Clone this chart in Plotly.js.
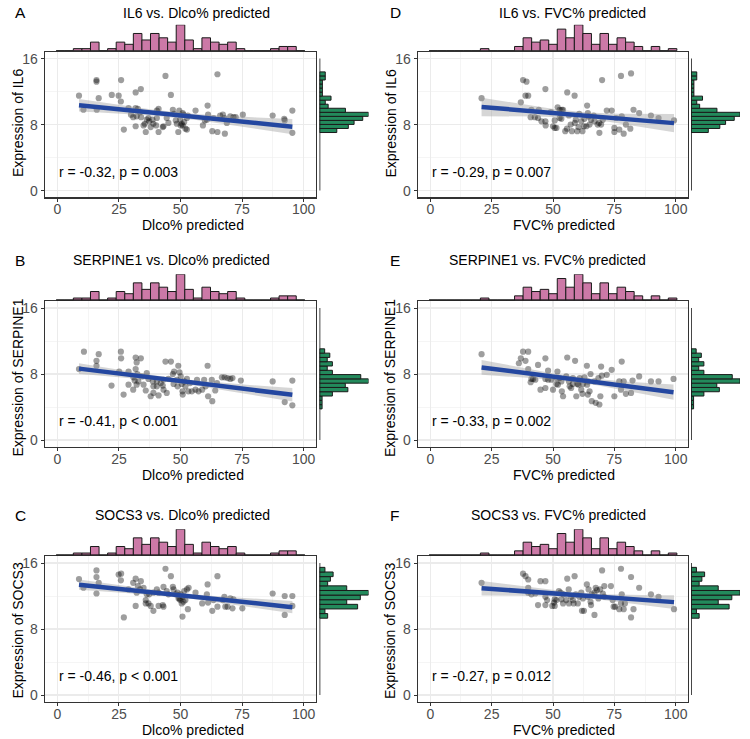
<!DOCTYPE html>
<html><head><meta charset="utf-8">
<script src="https://cdn.plot.ly/plotly-3.0.1.min.js"></script>
<style>html,body{margin:0;padding:0;background:#fff}#chart{width:750px;height:739px}</style>
</head><body><div id="chart"></div>
<script>
// ---------- DATA ----------
// Panel A: IL6 vs Dlco%
const xA = [8.8,10.6,15.9,15.9,16.8,16.0,22.1,24.9,25.9,25.8,27.0,28.9,30.8,31.8,33.9,31.8,31.8,32.2,33.6,34.0,35.0,35.5,35.9,36.3,37.3,37.9,38.6,39.0,40.1,41.1,41.1,42.8,43.1,43.9,44.4,45.1,46.1,46.9,47.4,48.5,49.1,49.5,49.9,50.1,50.5,50.9,51.2,51.5,52.0,52.6,53.0,56.1,59.1,59.9,61.0,61.2,62.9,65.0,65.0,67.2,67.8,68.0,68.8,70.2,71.5,72.4,75.3,87.4,92.1,92.3,95.4,95.4,32.7,37.0,40.4,48.1,50.9,52.6,66.1,63.4,60.7,40.4,29.9];
const yA = [11.5,9.8,13.4,13.2,11.2,9.8,11.6,11.5,13.4,10.8,7.4,10.0,8.9,11.9,12.3,10.0,7.8,9.0,9.5,8.9,7.9,8.1,7.1,8.6,8.4,7.7,8.6,8.1,7.9,9.9,7.1,7.7,7.8,13.9,8.8,8.2,11.6,9.8,9.3,8.1,7.1,9.7,8.6,7.9,8.1,7.9,9.2,8.3,7.5,7.4,9.1,9.7,7.9,8.5,10.3,9.2,7.2,14.1,7.1,9.2,8.8,6.9,8.2,9.0,8.9,8.9,9.2,9.1,8.7,8.5,9.7,7.0,9.9,8.8,9.7,8.5,9.4,8.8,9.1,8.8,8.6,8.8,9.2];
// Panel B: SERPINE1 vs Dlco%
const xB = [8.8,10.8,15.9,15.9,16.8,22.0,25.1,25.8,25.9,26.9,28.9,30.9,30.8,31.8,32.2,33.9,31.8,32.5,31.4,32.9,34.3,35.0,35.9,36.3,37.0,37.9,38.8,39.0,40.4,41.1,42.0,42.8,43.1,43.9,44.4,46.1,45.1,46.9,47.2,48.5,49.1,49.6,50.1,50.5,50.8,50.9,51.5,52.0,52.6,53.2,54.6,56.1,58.8,59.6,60.2,61.0,61.2,62.9,64.1,64.8,66.8,67.9,69.1,70.2,71.1,74.5,87.4,92.3,95.4,95.4,56.7,62.7,53.9,39.0,43.1,48.8,47.4,40.4,32.2,28.9,57.3];
const yB = [8.6,10.7,9.6,9.0,10.4,6.6,8.3,10.7,9.9,5.5,6.7,7.6,6.1,10.0,9.4,9.9,8.6,8.0,7.2,7.1,7.7,6.7,6.0,8.1,7.4,5.3,7.1,5.7,6.5,5.4,6.9,6.6,6.1,9.5,5.7,9.5,7.4,8.0,6.8,7.3,9.0,8.2,7.7,6.8,5.9,5.5,7.1,6.5,7.4,5.9,5.9,6.1,6.1,7.3,6.5,9.0,5.3,4.7,6.0,6.9,7.6,7.6,7.5,7.4,7.5,7.2,7.1,4.6,7.2,4.2,7.3,7.3,6.9,6.5,7.3,6.5,8.3,7.1,6.7,8.3,5.9];
// Panel C: SOCS3 vs Dlco%
const xC = [8.8,10.6,15.9,15.9,16.8,15.9,24.9,25.9,25.8,27.0,28.9,30.8,31.8,32.2,31.8,33.9,32.7,33.6,35.0,35.9,35.9,37.3,37.9,39.0,39.0,40.4,41.1,42.8,43.1,43.1,43.9,44.4,45.1,46.1,46.9,47.2,48.1,48.8,49.2,49.9,50.1,50.5,50.8,50.9,51.5,52.0,52.6,53.0,53.3,56.1,58.8,60.7,61.0,61.2,62.9,65.0,65.0,67.2,67.8,68.2,69.1,70.2,71.1,75.1,71.5,87.4,92.3,92.3,95.4,95.4,36.3,37.0,41.1,49.6,51.2,63.4];
const yC = [14.05,13.0,15.1,14.3,13.6,12.3,14.6,14.7,13.9,9.4,12.8,13.6,14.1,12.4,10.8,13.8,13.2,12.8,13.0,11.5,11.1,12.2,10.8,10.2,12.4,12.8,12.4,10.9,10.7,13.1,15.3,12.6,12.2,14.4,13.1,12.8,12.2,12.4,11.7,11.5,12.2,11.1,9.5,11.9,12.6,11.5,12.8,10.4,13.0,12.4,11.1,12.2,13.4,11.2,10.2,14.4,10.7,11.5,11.9,10.7,10.7,11.7,10.5,10.5,11.6,12.3,12.0,9.7,12.0,10.8,12.2,11.1,10.8,11.7,11.3,11.5];
// Panel D: IL6 vs FVC%
const xD = [20.9,37.8,39.2,38.8,39.9,36.9,40.9,42.6,43.9,44.2,46.9,46.9,47.0,50.0,50.7,50.7,51.4,51.9,52.7,52.7,53.4,53.6,54.1,55.0,55.8,56.5,57.2,57.7,58.8,58.9,59.9,60.4,60.7,61.5,62.0,62.6,63.6,63.9,64.2,64.5,64.9,65.5,66.9,68.2,68.8,68.9,69.6,70.0,70.3,71.9,73.9,75.0,75.0,77.0,77.7,78.0,78.8,79.7,81.5,81.8,82.8,85.1,89.9,93.0,99.3,49.1,52.7,45.3,62.8,66.6,59.3,55.7,75.7,41.2];
const yD = [11.2,13.4,13.2,11.5,11.5,10.7,8.9,8.9,8.8,9.8,12.3,8.4,7.9,7.8,7.6,8.5,7.6,10.1,9.8,9.4,8.7,9.8,9.8,7.2,11.9,9.1,8.0,7.2,11.5,8.2,7.2,7.7,9.3,8.4,7.2,7.8,7.8,10.3,9.4,9.0,8.0,8.6,8.4,8.0,8.2,7.0,8.0,13.4,8.6,9.7,9.7,7.6,7.1,7.4,13.9,9.0,6.9,8.0,7.5,14.2,9.8,9.4,9.1,8.8,8.5,9.5,8.8,8.4,8.7,9.1,8.6,7.5,8.8,9.8];
// Panel E: SERPINE1 vs FVC%
const xE = [20.9,36.9,36.1,37.8,39.9,38.8,39.9,40.9,41.9,42.8,43.9,44.9,46.9,46.9,46.9,48.0,50.0,51.4,51.8,52.0,52.7,53.6,54.1,55.4,55.8,56.5,57.4,58.1,59.0,59.5,59.9,60.4,60.9,61.5,62.0,62.8,63.8,63.9,64.2,64.9,65.3,65.8,66.9,67.4,68.5,68.9,69.3,69.6,69.9,71.9,73.9,75.0,77.0,77.7,78.0,78.8,79.7,81.8,82.4,85.1,89.9,93.0,99.1,49.3,53.4,58.1,62.2,51.4,48.0,56.8,64.2,41.2];
const yE = [10.4,9.9,9.3,10.7,10.7,9.6,8.6,7.0,7.4,7.3,9.1,6.1,9.9,6.3,7.4,7.3,6.1,6.8,8.3,6.7,7.5,5.9,5.3,7.7,10.0,7.1,6.3,6.8,9.6,5.3,6.8,6.7,7.5,6.1,5.6,7.6,9.0,6.7,5.5,5.9,8.0,4.7,7.1,4.5,7.5,4.3,5.3,8.9,7.8,7.9,8.5,5.3,7.1,6.1,9.5,7.1,5.6,5.7,7.2,7.7,7.1,7.1,7.4,7.3,7.1,7.5,6.8,7.5,8.4,6.5,7.1,7.4];
// Panel F: SOCS3 vs FVC%
const xF = [20.9,37.8,38.8,39.9,39.9,39.9,41.2,42.8,43.9,44.9,46.9,46.9,46.9,49.7,50.4,50.7,51.4,52.4,53.1,53.4,54.2,55.4,55.8,56.4,57.4,58.4,58.8,59.3,60.1,60.7,61.8,62.6,63.8,64.2,64.5,65.3,65.8,66.9,67.4,67.9,68.5,69.2,70.0,70.3,70.9,73.6,74.7,75.3,77.0,77.7,78.0,78.8,79.3,81.8,81.8,82.8,85.1,89.9,93.0,99.3,62.2,58.1,61.5,50.7,54.1,66.9,70.9,74.3,56.5,47.6,65.5,77.7];
const yF = [13.6,14.7,14.4,14.0,13.0,12.4,12.2,12.3,10.9,13.8,13.8,11.9,10.9,10.8,11.2,10.8,11.5,12.6,12.4,11.6,12.2,11.5,14.1,12.8,11.9,11.1,14.4,12.2,11.1,11.9,10.2,10.2,13.4,11.9,12.8,11.3,12.2,9.7,13.0,12.7,11.7,12.8,15.1,12.3,13.2,13.2,10.7,10.7,10.4,15.3,12.2,10.4,11.1,14.3,9.4,10.4,13.0,12.2,11.9,10.4,11.7,11.5,12.4,11.6,11.1,12.4,11.9,11.5,11.1,11.5,10.9,11.1];

// Marginal histogram counts (top: x variable, 29 bins)
const topBinStart = -0.46, topBinWidth = 3.48;
const dlcoCounts = [0,0,1,1,4,0,1,4,3,8,5,8,6,4,12,5,1,6,4,3,4,1,0,0,0,1,2,2,0];
const fvcCounts  = [0,0,0,0,0,0,1,0,0,0,2,6,4,5,3,10,6,12,8,3,8,3,6,4,2,0,2,0,1];
// Right histograms (bottom -> top)
const il6BinStart = 7.04, il6BinWidth = 0.49;
const il6Counts = [6,10,12,15,17,9,3,2,4,1,1,1,1,2,2];
const serpBinStart = 3.77, serpBinWidth = 0.52;
const serpCounts = [1,1,1,5,11,10,19,16,5,3,5,3,4,2];
const socsBinStart = 9.31, socsBinWidth = 0.56;
const socsCounts = [3,2,14,10,15,18,10,3,4,5,2];

// Text
const letters = ["A","B","C","D","E","F"];
const titles = ["IL6 vs. Dlco% predicted","SERPINE1 vs. Dlco% predicted","SOCS3 vs. Dlco% predicted",
                "IL6 vs. FVC% predicted","SERPINE1 vs. FVC% predicted","SOCS3 vs. FVC% predicted"];
const yTitles = ["Expression of IL6","Expression of SERPINE1","Expression of SOCS3",
                 "Expression of IL6","Expression of SERPINE1","Expression of SOCS3"];
const xTitles = ["Dlco% predicted","Dlco% predicted","Dlco% predicted","FVC% predicted","FVC% predicted","FVC% predicted"];
const statLabels = ["r = -0.32, p = 0.003","r = -0.41, p < 0.001","r = -0.46, p < 0.001",
                    "r = -0.29, p = 0.007","r = -0.33, p = 0.002","r = -0.27, p = 0.012"];
const xTicks = [0,25,50,75,100];
const yTicks = [0,8,16];

// ---------- BUILD ----------
const W = 750, H = 739;
const fx = px => px / W;
const fy = py => 1 - py / H;
const FONT = "Liberation Sans, Arial, sans-serif";
const PINK = "#CC79A7", GREEN = "#238A5C", OUT = "#1a1a1a";

const panels = [
  {x:xA,y:yA,top:dlcoCounts,tS:topBinStart,tW:topBinWidth,r:il6Counts,rS:il6BinStart,rW:il6BinWidth,col:0,row:0},
  {x:xB,y:yB,top:dlcoCounts,tS:topBinStart,tW:topBinWidth,r:serpCounts,rS:serpBinStart,rW:serpBinWidth,col:0,row:1},
  {x:xC,y:yC,top:dlcoCounts,tS:topBinStart,tW:topBinWidth,r:socsCounts,rS:socsBinStart,rW:socsBinWidth,col:0,row:2},
  {x:xD,y:yD,top:fvcCounts,tS:topBinStart,tW:topBinWidth,r:il6Counts,rS:il6BinStart,rW:il6BinWidth,col:1,row:0},
  {x:xE,y:yE,top:fvcCounts,tS:topBinStart,tW:topBinWidth,r:serpCounts,rS:serpBinStart,rW:serpBinWidth,col:1,row:1},
  {x:xF,y:yF,top:fvcCounts,tS:topBinStart,tW:topBinWidth,r:socsCounts,rS:socsBinStart,rW:socsBinWidth,col:1,row:2}
];

function fit(x, y) {
  const n = x.length;
  const mx = x.reduce((a,b)=>a+b,0)/n, my = y.reduce((a,b)=>a+b,0)/n;
  let sxx=0, sxy=0;
  for (let i=0;i<n;i++){ sxx+=(x[i]-mx)**2; sxy+=(x[i]-mx)*(y[i]-my); }
  const b = sxy/sxx, a = my - b*mx;
  let sse=0; for (let i=0;i<n;i++){ sse += (y[i]-(a+b*x[i]))**2; }
  const s = Math.sqrt(sse/(n-2)), t = 1.99;
  const xmin = Math.min(...x), xmax = Math.max(...x);
  const xs=[], yh=[], up=[], lo=[];
  for (let k=0;k<=60;k++){
    const xv = xmin + (xmax-xmin)*k/60;
    const yv = a + b*xv;
    const se = s*Math.sqrt(1/n + (xv-mx)**2/sxx);
    xs.push(xv); yh.push(yv); up.push(yv+t*se); lo.push(yv-t*se);
  }
  return {xs, yh, up, lo};
}

const data = [];
const layout = {
  width: W, height: H, margin:{l:0,r:0,t:0,b:0},
  paper_bgcolor:"#fff", plot_bgcolor:"rgba(0,0,0,0)",
  showlegend:false, font:{family:FONT, size:14, color:"#000"},
  annotations: []
};

const boxLs = [45, 418], boxRs = [316, 688];
const boxTs = [52, 301.4, 556.4];
const boxHt = 145.2;
const rhL = [319.5, 691];
const titleY = [13, 260, 515];
const titleRight = [272, 648];
const letterX = [13, 388];
const xTitleX = [192.5, 564];
const yTitleX = [17.5, 390];
const yTitleY = [123.5, 378, 631];

function axKey(n, xy){ return (n===1? xy+"axis" : xy+"axis"+n); }
function axRef(n, xy){ return (n===1? xy : xy+n); }

panels.forEach((p, i) => {
  const nM = 3*i+1, nT = 3*i+2, nR = 3*i+3;
  const L = boxLs[p.col], R = boxRs[p.col], T = boxTs[p.row], B = T + boxHt;
  const baseTop = T - 1.2, topTop = baseTop - 26;
  const rL = rhL[p.col], rR = rL + 49;

  const mainX = {domain:[fx(L), fx(R)], range:[-5,105], anchor:axRef(nM,"y"),
    tickmode:"array", tickvals:xTicks, ticktext:xTicks.map(String),
    showgrid:true, gridcolor:"#EBEBEB", gridwidth:1.1,
    minor:{tickmode:"linear", tick0:0, dtick:12.5, showgrid:true, gridcolor:"#EFEFEF", gridwidth:0.6, ticks:""},
    showline:true, mirror:true, linecolor:"#333333", linewidth:1.3,
    ticks:"outside", ticklen:3, tickwidth:1, tickcolor:"#333333", ticklabelstandoff:-4,
    tickfont:{family:FONT, size:14, color:"#4D4D4D"}, zeroline:false, fixedrange:true};
  const mainY = {domain:[fy(B), fy(T)], range:[-0.8,16.8], anchor:axRef(nM,"x"),
    tickmode:"array", tickvals:yTicks, ticktext:yTicks.map(String),
    showgrid:true, gridcolor:"#EBEBEB", gridwidth:1.1,
    minor:{tickmode:"linear", tick0:0, dtick:4, showgrid:true, gridcolor:"#EFEFEF", gridwidth:0.6, ticks:""},
    showline:true, mirror:true, linecolor:"#333333", linewidth:1.3,
    ticks:"outside", ticklen:3, tickwidth:1, tickcolor:"#333333",
    tickfont:{family:FONT, size:14, color:"#4D4D4D"}, zeroline:false, fixedrange:true};
  layout[axKey(nM,"x")] = mainX;
  layout[axKey(nM,"y")] = mainY;

  const topMax = Math.max(...p.top);
  layout[axKey(nT,"x")] = {domain:[fx(L), fx(R)], range:[-5,105], visible:false, anchor:axRef(nT,"y"), fixedrange:true};
  layout[axKey(nT,"y")] = {domain:[fy(baseTop), fy(topTop)], range:[0, topMax], visible:false, anchor:axRef(nT,"x"), fixedrange:true};

  const rMax = Math.max(...p.r);
  layout[axKey(nR,"x")] = {domain:[fx(rL), fx(rR)], range:[0, rMax], visible:false, anchor:axRef(nR,"y"), fixedrange:true};
  layout[axKey(nR,"y")] = {domain:[fy(B), fy(T)], range:[-0.8,16.8], visible:false, anchor:axRef(nR,"x"), fixedrange:true};

  const xm = axRef(nM,"x"), ym = axRef(nM,"y");
  const xt = axRef(nT,"x"), yt = axRef(nT,"y");
  const xr = axRef(nR,"x"), yr = axRef(nR,"y");

  // scatter points
  data.push({type:"scatter", mode:"markers", x:p.x, y:p.y, xaxis:xm, yaxis:ym,
    marker:{size:6.2, color:"rgba(0,0,0,0.38)", line:{width:0}}, hoverinfo:"skip"});
  // confidence band + regression line
  const f = fit(p.x, p.y);
  data.push({type:"scatter", mode:"lines", x:f.xs.concat(f.xs.slice().reverse()),
    y:f.up.concat(f.lo.slice().reverse()), xaxis:xm, yaxis:ym, fill:"toself",
    fillcolor:"rgba(153,153,153,0.4)", line:{width:0}, hoverinfo:"skip"});
  data.push({type:"scatter", mode:"lines", x:f.xs, y:f.yh, xaxis:xm, yaxis:ym,
    line:{color:"#2447A0", width:4.5}, hoverinfo:"skip"});

  // top histogram
  const tc = p.top.map((_,k)=>p.tS + p.tW*(k+0.5));
  data.push({type:"scatter", mode:"lines", x:[p.tS, p.tS + p.tW*p.top.length], y:[0,0],
    xaxis:xt, yaxis:yt, line:{color:OUT, width:1.2}, hoverinfo:"skip", cliponaxis:false});
  data.push({type:"bar", x:tc, y:p.top, width:p.tW, xaxis:xt, yaxis:yt,
    marker:{color:PINK, line:{color:OUT, width:1}}, cliponaxis:false, hoverinfo:"skip"});

  // right histogram
  const rc = p.r.map((_,k)=>p.rS + p.rW*(k+0.5));
  data.push({type:"scatter", mode:"lines", x:[0,0], y:[yTicks[0], yTicks[yTicks.length-1]],
    xaxis:xr, yaxis:yr, line:{color:OUT, width:1.6}, hoverinfo:"skip", cliponaxis:false});
  data.push({type:"bar", orientation:"h", y:rc, x:p.r, width:p.rW, xaxis:xr, yaxis:yr,
    marker:{color:GREEN, line:{color:OUT, width:1}}, cliponaxis:false, hoverinfo:"skip"});

  // annotations
  layout.annotations.push({xref:xm, yref:ym, x:0, y:2.3, xanchor:"left", yanchor:"middle",
    text:statLabels[i], showarrow:false, font:{family:FONT, size:14, color:"#000"}});
  layout.annotations.push({xref:"paper", yref:"paper", x:fx(titleRight[p.col]), y:fy(titleY[p.row]),
    xanchor:"right", yanchor:"middle", text:titles[i], showarrow:false, font:{family:FONT, size:14, color:"#000"}});
  layout.annotations.push({xref:"paper", yref:"paper", x:fx(letterX[p.col]), y:fy(titleY[p.row]),
    xanchor:"left", yanchor:"middle", text:letters[i], showarrow:false, font:{family:FONT, size:15.5, color:"#000"}});
  layout.annotations.push({xref:"paper", yref:"paper", x:fx(xTitleX[p.col]), y:fy(B + 28),
    xanchor:"center", yanchor:"middle", text:xTitles[i], showarrow:false, font:{family:FONT, size:14, color:"#000"}});
  layout.annotations.push({xref:"paper", yref:"paper", x:fx(yTitleX[p.col]), y:fy(yTitleY[p.row]),
    xanchor:"center", yanchor:"middle", textangle:-90, text:yTitles[i], showarrow:false, font:{family:FONT, size:14, color:"#000"}});
});

Plotly.newPlot("chart", data, layout, {staticPlot:true, displayModeBar:false});
</script>
</body></html>
